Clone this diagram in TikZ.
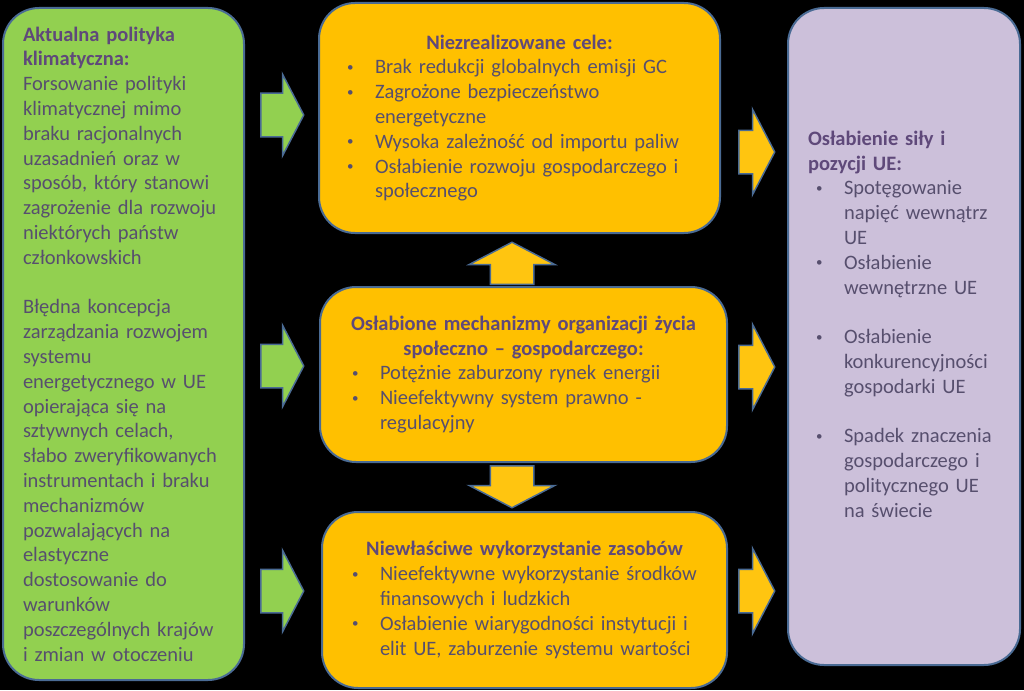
\documentclass[tikz,border=0pt]{standalone}
\usepackage{fontspec}
\setmainfont{Carlito}
\usetikzlibrary{shapes.arrows, positioning}

\definecolor{zielony}{HTML}{92D050}
\definecolor{pomarancz}{HTML}{FFC000}
\definecolor{fiolet}{HTML}{CCC0DA}
\definecolor{obrys}{HTML}{4A6B94}
\definecolor{strzalka}{HTML}{FFC510}
\definecolor{naglowek}{HTML}{5F497A}
\definecolor{tresc}{HTML}{574F6E}

\newcommand{\pkt}{\hspace*{8pt}\makebox[28pt][l]{\raisebox{2.6pt}{\fontsize{13}{13}\selectfont\textbullet}}}
\newcommand{\dal}{\hspace*{36pt}}
\newcommand{\nag}[1]{{\bfseries\color{naglowek}#1}}

\begin{document}
\begin{tikzpicture}[x=1pt,y=-1pt,
  every node/.style={font=\fontsize{20.5}{24.8}\selectfont, text=tresc},
  pole/.style={draw=obrys, line width=2pt, rounded corners=36pt, inner sep=0pt, align=left},
  pfeil/.style={single arrow, draw=obrys, line width=1.5pt, inner xsep=0pt, inner ysep=21pt,
    single arrow tip angle=125, anchor=tail}]

  \fill[black] (0,0) rectangle (1024,690);

  % przyczyny
  \node[pole, fill=zielony, minimum width=241, minimum height=672, text width=201] (polityka) at (123.5,344)
    {\nag{Aktualna polityka}\\ \nag{klimatyczna:}\\ Forsowanie polityki\\ klimatycznej mimo\\
     braku racjonalnych\\ uzasadnień oraz w\\ sposób, który stanowi\\ zagrożenie dla rozwoju\\
     niektórych państw\\ członkowskich\\[24.8pt]
     Błędna koncepcja\\ zarządzania rozwojem\\ systemu\\ energetycznego w UE\\ opierająca się na\\
     sztywnych celach,\\ słabo zweryfikowanych\\ instrumentach i braku\\ mechanizmów\\
     pozwalających na\\ elastyczne\\ dostosowanie do\\ warunków\\ poszczególnych krajów\\
     i zmian w otoczeniu};

  % skutki
  \node[pole, fill=pomarancz, minimum width=401, minimum height=230, text width=361] (cele) at (519.5,118)
    {\makebox[\linewidth]{\nag{Niezrealizowane cele:}}\\
     \pkt Brak redukcji globalnych emisji GC\\
     \pkt Zagrożone bezpieczeństwo\\ \dal energetyczne\\
     \pkt Wysoka zależność od importu paliw\\
     \pkt Osłabienie rozwoju gospodarczego i\\ \dal społecznego};

  \node[pole, fill=pomarancz, minimum width=407, minimum height=175, text width=359] (mechanizmy) at (523.5,374.5)
    {\makebox[\linewidth]{\nag{Osłabione mechanizmy organizacji życia}}\\
     \makebox[\linewidth]{\nag{społeczno – gospodarczego:}}\\
     \pkt Potężnie zaburzony rynek energii\\
     \pkt Nieefektywny system prawno -\\ \dal regulacyjny};

  \node[pole, fill=pomarancz, minimum width=405, minimum height=176, text width=361] (zasoby) at (524.5,600)
    {\makebox[\linewidth]{\nag{Niewłaściwe wykorzystanie zasobów}}\\
     \pkt Nieefektywne wykorzystanie środków\\ \dal finansowych i ludzkich\\
     \pkt Osłabienie wiarygodności instytucji i\\ \dal elit UE, zaburzenie systemu wartości};

  % efekt
  \node[pole, fill=fiolet, minimum width=232, minimum height=657, text width=192] (pozycja) at (904,336.5)
    {\nag{Osłabienie siły i}\\ \nag{pozycji UE:}\\
     \pkt Spotęgowanie\\ \dal napięć wewnątrz\\ \dal UE\\
     \pkt Osłabienie\\ \dal wewnętrzne UE\\[24.8pt]
     \pkt Osłabienie\\ \dal konkurencyjności\\ \dal gospodarki UE\\[24.8pt]
     \pkt Spadek znaczenia\\ \dal gospodarczego i\\ \dal politycznego UE\\ \dal na świecie\\ \mbox{}};

  % strzalki
  \node[pfeil, fill=zielony, minimum height=43, single arrow head extend=19] (z1) at (260,115) {};
  \node[pfeil, fill=zielony, minimum height=43, single arrow head extend=19] (z2) at (260,366) {};
  \node[pfeil, fill=zielony, minimum height=43, single arrow head extend=19] (z3) at (260,591) {};

  \node[pfeil, fill=strzalka, minimum height=36, single arrow head extend=21] (p1) at (738,152) {};
  \node[pfeil, fill=strzalka, minimum height=36, single arrow head extend=21] (p2) at (738,367) {};
  \node[pfeil, fill=strzalka, minimum height=36, single arrow head extend=21] (p3) at (738,591) {};

  \node[pfeil, fill=strzalka, rotate=90, minimum height=42, single arrow head extend=21] (gora) at (512,285) {};
  \node[pfeil, fill=strzalka, rotate=-90, minimum height=42, single arrow head extend=21] (dol) at (512,465) {};
\end{tikzpicture}
\end{document}
